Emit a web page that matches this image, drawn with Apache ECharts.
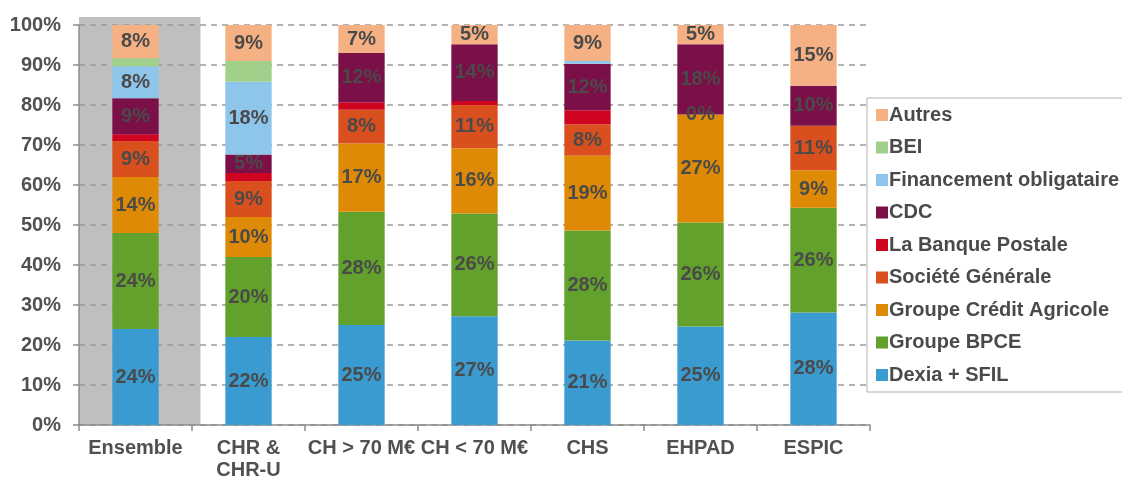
<!DOCTYPE html>
<html><head><meta charset="utf-8">
<script src="https://cdn.jsdelivr.net/npm/echarts@6/dist/echarts.min.js"></script>
<style>html,body{margin:0;padding:0;background:#fff;}#c{width:1122px;height:478px;}</style>
</head><body><div id="c"></div>
<script>
var categories = ['Ensemble', 'CHR &\nCHR-U', 'CH > 70 M€', 'CH < 70 M€', 'CHS', 'EHPAD', 'ESPIC'];
var dexia   = [24, 22, 25, 27.2, 21.1, 24.6, 28.1];
var bpce    = [24, 20, 28.3, 25.7, 27.5, 26, 26.2];
var credAgr = [14, 10, 17.1, 16.3, 18.7, 27, 9.4];
var socGen  = [9, 9, 8.4, 10.8, 7.9, 0, 11.1];
var banquePostale = [1.7, 2, 1.9, 1, 3.5, 0, 0];
var cdc     = [9, 4.6, 12.3, 14.2, 11.6, 17.6, 10];
var finOblig = [8, 18.2, 0, 0, 0.7, 0, 0];
var bei     = [2, 5.2, 0, 0, 0, 0, 0];
var autres  = [8.3, 9, 7, 4.8, 9, 4.8, 15.2];
var yTicks = [0, 10, 20, 30, 40, 50, 60, 70, 80, 90, 100];
var highlightCategory = 'Ensemble';
var forcedLabels = [{ series: 'Société Générale', category: 'EHPAD' }];

var seriesDefs = [
  { name: 'Dexia + SFIL', data: dexia, color: '#3a9bd0', label: true },
  { name: 'Groupe BPCE', data: bpce, color: '#62a12b', label: true },
  { name: 'Groupe Crédit Agricole', data: credAgr, color: '#df8a06', label: true },
  { name: 'Société Générale', data: socGen, color: '#d9501e', label: true },
  { name: 'La Banque Postale', data: banquePostale, color: '#cf0420', label: false },
  { name: 'CDC', data: cdc, color: '#7b0f47', label: true },
  { name: 'Financement obligataire', data: finOblig, color: '#8ec5ea', label: true },
  { name: 'BEI', data: bei, color: '#a1d08a', label: false },
  { name: 'Autres', data: autres, color: '#f5b184', label: true }
];

var FONT = 'Liberation Sans, Arial, sans-serif';
var labelStyle = { color: '#4a4a4a', fontFamily: FONT, fontWeight: 'bold', fontSize: 20 };

var series = [{
  type: 'custom',
  name: 'bg',
  z: -1,
  silent: true,
  clip: false,
  xAxisIndex: 0, yAxisIndex: 0,
  data: categories.map(function (c) { return c === highlightCategory ? [c, 102] : null; }).filter(Boolean),
  renderItem: function (params, api) {
    var top = api.coord([api.value(0), api.value(1)]);
    var bottom = api.coord([api.value(0), 0]);
    var band = api.size([1, 0])[0];
    return {
      type: 'rect',
      shape: { x: top[0] - band / 2, y: top[1], width: band * 1.075, height: bottom[1] - top[1] },
      style: { fill: '#bfbfbf' }
    };
  }
}];

seriesDefs.forEach(function (s) {
  series.push({
    type: 'bar',
    name: s.name,
    stack: 'total',
    barWidth: '41%',
    itemStyle: { color: s.color },
    data: s.data.map(function (v, i) {
      var forced = forcedLabels.some(function (f) { return f.series === s.name && f.category === categories[i]; });
      var show = forced || (s.label && v >= 3);
      return { value: v, label: { show: show } };
    }),
    label: Object.assign({ show: false, position: 'inside', formatter: function (p) { return Math.round(p.value) + '%'; } }, labelStyle)
  });
});

var legendOrder = seriesDefs.map(function (s) { return s.name; }).reverse();

var chart = echarts.init(document.getElementById('c'));
chart.setOption({
  animation: false,
  backgroundColor: '#ffffff',
  grid: { left: 79, right: 252, top: 25, bottom: 53, containLabel: false, outerBoundsMode: 'none' },
  legend: {
    data: legendOrder,
    orient: 'vertical',
    left: 867, top: 98,
    width: 400,
    padding: [7, 140, 7, 9],
    borderColor: '#b0b0b0', borderWidth: 1,
    itemWidth: 12, itemHeight: 12, itemGap: 12.5,
    icon: 'rect',
    selectedMode: false,
    textStyle: { color: '#4a4a4a', fontFamily: FONT, fontWeight: 'bold', fontSize: 20, lineHeight: 20, padding: [0, 0, 0, -4] }
  },
  xAxis: {
    type: 'category',
    data: categories,
    axisLine: { lineStyle: { color: '#8c8c8c', width: 1.5 } },
    axisTick: { show: true, length: 6, lineStyle: { color: '#8c8c8c', width: 1.5 } },
    axisLabel: { interval: 0, color: '#505050', fontFamily: FONT, fontWeight: 'bold', fontSize: 20, margin: 12, lineHeight: 22 }
  },
  yAxis: {
    type: 'value',
    min: yTicks[0], max: yTicks[yTicks.length - 1], interval: yTicks[1] - yTicks[0],
    axisLine: { show: true, lineStyle: { color: '#8c8c8c', width: 1.5 } },
    axisTick: { show: true, length: 6, lineStyle: { color: '#8c8c8c', width: 1.5 } },
    axisLabel: { formatter: '{value}%', color: '#505050', fontFamily: FONT, fontWeight: 'bold', fontSize: 20, margin: 18 },
    splitLine: { show: true, lineStyle: { color: '#9a9a9a', type: [6, 5], width: 1.5 } }
  },
  series: series
});
</script>
</body></html>
